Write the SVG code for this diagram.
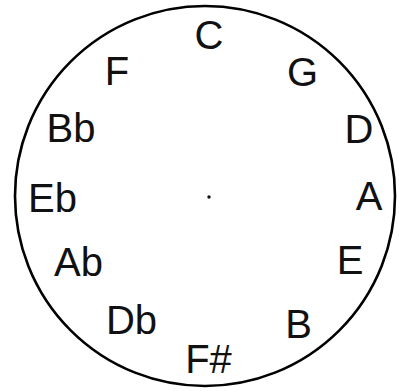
<svg xmlns="http://www.w3.org/2000/svg" width="399" height="391" viewBox="0 0 399 391">
<style>
.ring{fill:none;stroke:#000;stroke-width:2.6}
.lbl{font-family:"Liberation Sans",Arial,sans-serif;font-size:40px;fill:#111;text-anchor:middle}
</style>
<rect width="399" height="391" fill="#fff"/>
<g id="circle"><circle class="ring" cx="205" cy="196" r="190"/></g>
<g id="center"><circle cx="209" cy="197" r="1.7" fill="#111"/></g>
<g id="connectors"></g>
<g id="n-C"><text class="lbl" x="209" y="49">C</text></g>
<g id="n-G"><text class="lbl" x="302.5" y="86">G</text></g>
<g id="n-D"><text class="lbl" x="359" y="143">D</text></g>
<g id="n-A"><text class="lbl" x="369" y="210">A</text></g>
<g id="n-E"><text class="lbl" x="350" y="274">E</text></g>
<g id="n-B"><text class="lbl" x="298.5" y="338">B</text></g>
<g id="n-Fs"><text class="lbl" x="208.5" y="373">F#</text></g>
<g id="n-Db"><text class="lbl" x="131.5" y="334">Db</text></g>
<g id="n-Ab"><text class="lbl" x="78.5" y="276">Ab</text></g>
<g id="n-Eb"><text class="lbl" x="52.5" y="212">Eb</text></g>
<g id="n-Bb"><text class="lbl" x="71" y="142">Bb</text></g>
<g id="n-F"><text class="lbl" x="117" y="85">F</text></g>
</svg>
